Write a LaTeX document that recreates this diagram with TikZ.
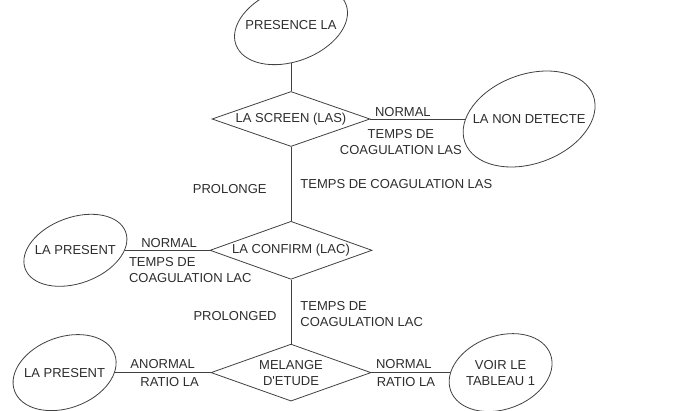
\documentclass[tikz,border=0pt]{standalone}
\usepackage{fontspec}
\setmainfont{Liberation Sans}
\usepackage{tikz}
\usetikzlibrary{positioning, shapes.geometric}
\definecolor{trait}{RGB}{64,64,64}
\definecolor{texte}{RGB}{45,45,45}
\tikzset{
  test/.style={
    diamond, draw=trait, line width=0.8pt, aspect=2.8,
    inner sep=1pt, align=center, text=texte
  },
  bulle/.style={
    rectangle, inner sep=0pt, align=center, text=texte
  },
  lien/.style={draw=trait, line width=0.8pt},
  etiq/.style={text=texte, align=center, inner sep=2pt}
}

\begin{document}
\begin{tikzpicture}[x=1pt, y=-1pt, font=\fontsize{13}{16}\selectfont]
  \useasboundingbox (0,0) rectangle (700,411);
  \node[test, minimum width=158pt, minimum height=55pt] (las) at (291,119) {LA SCREEN (LAS)};
  \node[test, minimum width=162pt, minimum height=58pt, below=74pt of las] (lac) {LA CONFIRM (LAC)};
  \node[test, minimum width=160pt, minimum height=57pt, below=64pt of lac] (mel) {MELANGE\\D\textquotesingle ETUDE};

  \node[bulle, minimum width=108pt, minimum height=76.4pt, above=28pt of las] (pres) {PRESENCE LA};
  \node[bulle, minimum width=127pt, minimum height=92.4pt, right=95pt of las] (nondet) {LA NON DETECTE};
  \node[bulle, minimum width=98pt, minimum height=68.6pt, left=85pt of lac] (pres1) {LA PRESENT};
  \node[bulle, minimum width=99.6pt, minimum height=73.4pt, left=96pt of mel] (pres2) {LA PRESENT};
  \node[bulle, minimum width=100pt, minimum height=75.6pt, right=79pt of mel] (voir) {VOIR LE\\TABLEAU 1};

  \foreach \n/\a/\b in {pres/58.6/36.8, nondet/68.3/44.6, pres1/53.5/33, pres2/53.3/35.5, voir/53.1/36.7}
    \draw[lien, rotate around={20:(\n.center)}] (\n.center) ellipse [x radius=\a, y radius=\b];

  \draw[lien] (pres) -- (las);
  \draw[lien] (las) -- node[etiq, above, xshift=-15pt] (n1) {NORMAL}
    node[etiq, below=8pt, xshift=-17pt] (t1) {TEMPS DE\\COAGULATION LAS} (nondet);
  \draw[lien] (las) -- node[etiq, left=22pt, yshift=-5pt] (p1) {PROLONGE}
    node[etiq, right=7pt] (t2) {TEMPS DE COAGULATION LAS} (lac);
  \draw[lien] (pres1) -- node[etiq, above, xshift=2pt] (n2) {NORMAL}
    node[etiq, at start, anchor=north west, align=left, xshift=2pt, yshift=-5pt] (t3) {TEMPS DE\\COAGULATION LAC} (lac);
  \draw[lien] (lac) -- node[etiq, left=12pt, yshift=-4pt] (p2) {PROLONGED}
    node[etiq, right=7pt, align=left, yshift=-2pt] (t4) {TEMPS DE\\COAGULATION LAC} (mel);
  \draw[lien] (pres2) -- node[etiq, above=2pt] (n3) {ANORMAL}
    node[etiq, below=2pt, xshift=7pt] (r1) {RATIO LA} (mel);
  \draw[lien] (mel) -- node[etiq, above=2pt, xshift=-7pt] (n4) {NORMAL}
    node[etiq, below=2pt, xshift=-5pt] (r2) {RATIO LA} (voir);
\end{tikzpicture}
\end{document}
